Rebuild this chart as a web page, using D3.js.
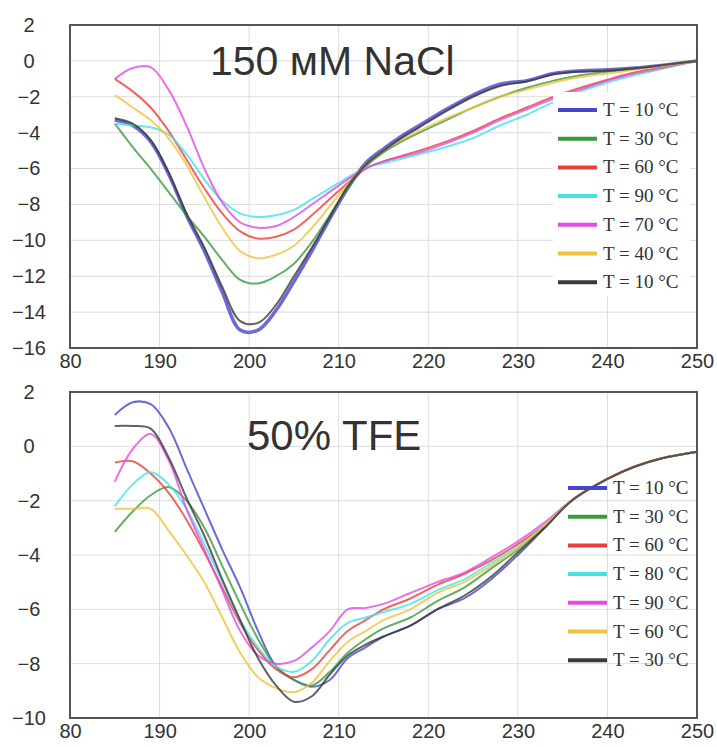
<!DOCTYPE html>
<html>
<head>
<meta charset="utf-8">
<script src="https://cdn.jsdelivr.net/npm/d3@7"></script>
<style>
  body { margin: 0; background: #fff; }
  .tick text { font-family: "Liberation Sans", Arial, sans-serif; fill: #333; }
  .domain { display: none; }
  .grid line { stroke: #dcdcdc; stroke-width: 1; }
  .frame { fill: none; stroke: #555; stroke-width: 2; }
  .title { font-family: "Liberation Sans", Arial, sans-serif; fill: #333; }
  .legend text { font-family: "Liberation Serif", "Times New Roman", serif; font-size: 19px; fill: #333; }
</style>
</head>
<body>
<div id="chart"></div>
<script>
// wavelength ticks (nm) and their printed labels
var xTicks = [180, 190, 200, 210, 220, 230, 240, 250];
var xTickLabels = ["80", "190", "200", "210", "220", "230", "240", "250"];

// --- panel 1: 150 mM NaCl ---
var lambdaTop = [185,187,189,191,193,195,197,199,201,203,205,207,209,211,213,215,217,219,222,225,228,231,234,237,240,243,246,250];
var nacl10a = [-3.3,-3.6,-4.5,-6.3,-8.6,-10.6,-12.9,-15.0,-15.0,-13.9,-12.3,-10.6,-8.8,-7.1,-5.7,-4.9,-4.2,-3.6,-2.7,-1.9,-1.3,-1.1,-0.7,-0.55,-0.5,-0.4,-0.25,0];
var nacl30 = [-3.5,-4.8,-6.0,-7.3,-8.6,-9.8,-11.1,-12.2,-12.4,-12.0,-11.3,-10.1,-8.6,-7.1,-5.9,-5.1,-4.5,-4.0,-3.3,-2.6,-2.0,-1.5,-1.1,-0.8,-0.6,-0.45,-0.25,0];
var nacl60 = [-1.0,-1.7,-2.6,-3.9,-5.5,-7.1,-8.5,-9.5,-9.9,-9.8,-9.4,-8.6,-7.7,-6.8,-6.0,-5.6,-5.3,-5.0,-4.5,-3.9,-3.2,-2.6,-2.0,-1.5,-1.05,-0.65,-0.35,0];
var nacl90 = [-3.5,-3.6,-3.7,-4.1,-5.2,-6.6,-7.8,-8.5,-8.7,-8.6,-8.3,-7.7,-7.1,-6.5,-5.95,-5.7,-5.45,-5.2,-4.8,-4.3,-3.6,-3.0,-2.3,-1.7,-1.2,-0.8,-0.45,0];
var nacl70 = [-1.0,-0.4,-0.35,-1.6,-3.6,-6.0,-7.9,-9.0,-9.3,-9.2,-8.7,-8.0,-7.3,-6.6,-6.0,-5.6,-5.35,-5.1,-4.6,-4.0,-3.3,-2.7,-2.1,-1.6,-1.1,-0.7,-0.4,0];
var nacl40 = [-1.9,-2.6,-3.3,-4.3,-5.8,-7.6,-9.3,-10.6,-11.0,-10.8,-10.3,-9.3,-8.1,-6.9,-5.8,-5.0,-4.4,-3.9,-3.2,-2.6,-2.0,-1.6,-1.2,-0.9,-0.7,-0.5,-0.3,0];
var nacl10b = [-3.2,-3.5,-4.4,-6.2,-8.5,-10.4,-12.6,-14.5,-14.6,-13.6,-12.0,-10.4,-8.7,-7.0,-5.8,-5.0,-4.3,-3.7,-2.8,-2.0,-1.4,-1.15,-0.75,-0.6,-0.55,-0.42,-0.25,0];
var naclLabels = ["T = 10 °C", "T = 30 °C", "T = 60 °C", "T = 90 °C", "T = 70 °C", "T = 40 °C", "T = 10 °C"];

// --- panel 2: 50% TFE ---
var lambdaBot = [185,187,189,191,193,195,197,199,201,203,205,207,209,211,213,215,218,221,224,227,230,233,236,240,243,246,250];
var tfe10 = [1.15,1.62,1.55,0.7,-0.8,-2.3,-3.8,-5.2,-6.8,-8.1,-8.6,-8.85,-8.6,-7.8,-7.4,-7.0,-6.6,-6.0,-5.6,-4.9,-4.0,-3.0,-2.0,-1.2,-0.75,-0.45,-0.2];
var tfe30a = [-3.15,-2.4,-1.8,-1.5,-2.0,-3.0,-4.4,-5.8,-7.1,-8.1,-8.6,-8.8,-8.3,-7.6,-7.1,-6.7,-6.3,-5.7,-5.2,-4.5,-3.8,-2.95,-2.0,-1.2,-0.75,-0.45,-0.2];
var tfe60a = [-0.6,-0.55,-1.0,-1.7,-2.7,-3.9,-5.2,-6.5,-7.5,-8.2,-8.5,-8.2,-7.5,-6.8,-6.4,-6.0,-5.6,-5.1,-4.7,-4.2,-3.6,-2.9,-2.0,-1.2,-0.75,-0.45,-0.2];
var tfe80 = [-2.2,-1.4,-0.95,-1.4,-2.3,-3.6,-5.0,-6.4,-7.4,-8.1,-8.3,-7.9,-7.1,-6.5,-6.3,-6.1,-5.8,-5.3,-4.9,-4.3,-3.7,-2.9,-2.0,-1.2,-0.75,-0.45,-0.2];
var tfe90 = [-1.3,-0.1,0.45,-0.5,-2.3,-3.8,-5.3,-6.8,-7.7,-8.0,-7.9,-7.4,-6.8,-6.0,-5.95,-5.8,-5.4,-5.0,-4.65,-4.1,-3.5,-2.8,-2.0,-1.2,-0.75,-0.45,-0.2];
var tfe60b = [-2.3,-2.3,-2.3,-3.1,-4.0,-5.0,-6.3,-7.6,-8.5,-8.9,-9.05,-8.7,-7.9,-7.2,-6.8,-6.4,-6.0,-5.4,-5.0,-4.4,-3.75,-2.9,-2.0,-1.2,-0.75,-0.45,-0.2];
var tfe30b = [0.75,0.75,0.65,-0.4,-1.9,-3.3,-4.9,-6.4,-7.8,-8.8,-9.4,-9.2,-8.4,-7.7,-7.3,-7.0,-6.6,-6.0,-5.5,-4.8,-3.9,-3.0,-2.0,-1.2,-0.75,-0.45,-0.2];
var tfeLabels = ["T = 10 °C", "T = 30 °C", "T = 60 °C", "T = 80 °C", "T = 90 °C", "T = 60 °C", "T = 30 °C"];

var colors = ["#4646c8", "#3c9a3c", "#e8403c", "#46e2e2", "#e04ce0", "#f0c040", "#3a3a3a"];

var W = 717, H = 747;
var svg = d3.select("#chart").append("svg")
    .attr("width", W)
    .attr("height", H);

function drawPanel(opt) {
    var g = svg.append("g");

    var x = d3.scaleLinear().domain([180, 250]).range([opt.left, opt.right]);
    var y = d3.scaleLinear().domain(opt.yDomain).range([opt.bottom, opt.top]);
    var yTicks = d3.range(opt.yDomain[0], opt.yDomain[1] + 0.1, 2);

    // grid
    var grid = g.append("g").attr("class", "grid");
    grid.selectAll(".gx").data(xTicks.slice(1, -1)).enter().append("line")
        .attr("x1", d => x(d)).attr("x2", d => x(d))
        .attr("y1", opt.top).attr("y2", opt.bottom);
    grid.selectAll(".gy").data(yTicks.slice(1, -1)).enter().append("line")
        .attr("x1", opt.left).attr("x2", opt.right)
        .attr("y1", d => y(d)).attr("y2", d => y(d));

    // curves
    var line = d3.line()
        .x(d => x(d[0]))
        .y(d => y(d[1]))
        .curve(d3.curveCatmullRom.alpha(0.5));

    opt.series.forEach(function (s, i) {
        var pts = opt.lambda.map((l, j) => [l, s[j]]);
        g.append("path")
            .datum(pts)
            .attr("fill", "none")
            .attr("stroke", colors[i])
            .attr("stroke-width", opt.widths[i])
            .attr("stroke-opacity", 0.8)
            .attr("stroke-linejoin", "round")
            .attr("d", line);
    });

    // legend
    var leg = g.append("g").attr("class", "legend");
    if (opt.legendBox) {
        leg.append("rect")
            .attr("x", opt.legendBox[0]).attr("y", opt.legendBox[1])
            .attr("width", opt.legendBox[2]).attr("height", opt.legendBox[3])
            .attr("fill", "#fff");
    }
    var rows = leg.selectAll(".row").data(opt.labels).enter().append("g")
        .attr("transform", (d, i) => "translate(" + opt.legendX + "," + (opt.legendY + i * 28.7) + ")");
    rows.append("line")
        .attr("x1", 0).attr("x2", 39).attr("y1", 0).attr("y2", 0)
        .attr("stroke", (d, i) => colors[i])
        .attr("stroke-width", 4);
    rows.append("text")
        .attr("x", 45).attr("y", 6)
        .text(d => d);

    // frame
    g.append("rect").attr("class", "frame")
        .attr("x", opt.left).attr("y", opt.top)
        .attr("width", opt.right - opt.left).attr("height", opt.bottom - opt.top);

    // axes
    var xAxis = d3.axisBottom(x).tickValues(xTicks).tickSize(0).tickPadding(opt.xPad)
        .tickFormat((d, i) => xTickLabels[i]);
    g.append("g").attr("transform", "translate(0," + opt.bottom + ")")
        .call(xAxis)
        .selectAll("text").style("font-size", "20px");

    var yAxis = d3.axisLeft(y).tickValues(yTicks).tickSize(0).tickFormat(d3.format("d"));
    var yG = g.append("g").attr("transform", "translate(" + opt.left + ",0)").call(yAxis);
    yG.selectAll("text")
        .attr("x", -41)
        .attr("text-anchor", "middle")
        .style("font-size", "20px");

    g.append("text").attr("class", "title")
        .attr("x", opt.titleX).attr("y", opt.titleY)
        .style("font-size", opt.titleSize + "px")
        .text(opt.title);
}

drawPanel({
    left: 70, right: 697, top: 25, bottom: 348,
    yDomain: [-16, 2],
    lambda: lambdaTop,
    series: [nacl10a, nacl30, nacl60, nacl90, nacl70, nacl40, nacl10b],
    widths: [3.5, 2, 2, 2, 2, 2, 2],
    labels: naclLabels,
    legendX: 558, legendY: 110, legendBox: [553, 92, 137, 204],
    title: "150 мМ NaCl", titleX: 210, titleY: 75, titleSize: 41,
    xPad: 6
});

drawPanel({
    left: 70, right: 697, top: 392, bottom: 718,
    yDomain: [-10, 2],
    lambda: lambdaBot,
    series: [tfe10, tfe30a, tfe60a, tfe80, tfe90, tfe60b, tfe30b],
    widths: [2, 2, 2, 2, 2, 2, 2],
    labels: tfeLabels,
    legendX: 568, legendY: 488, legendBox: null,
    title: "50% TFE", titleX: 247, titleY: 450, titleSize: 42,
    xPad: 6
});
</script>
</body>
</html>
